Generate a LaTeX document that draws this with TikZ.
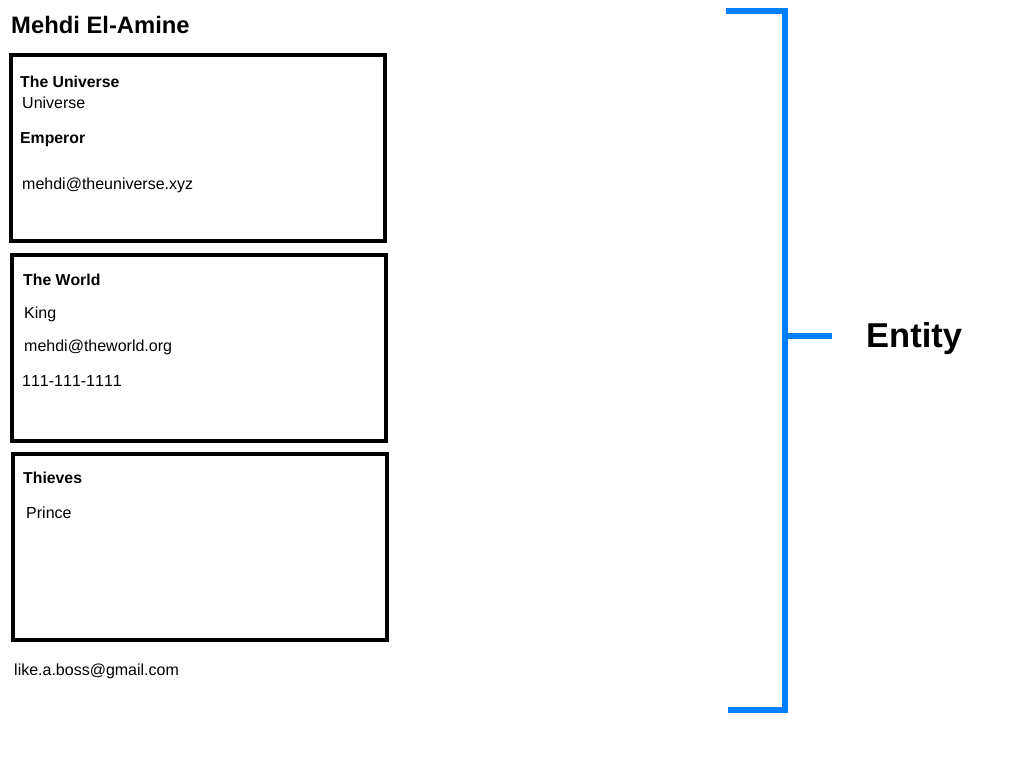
\documentclass[tikz,border=0pt]{standalone}
\usepackage{fontspec}
\setmainfont{Liberation Sans}[Kerning=Off]
\definecolor{brk}{RGB}{0,128,255}
\begin{document}
\begin{tikzpicture}[x=1pt,y=-1pt,
  card/.style={draw=black, line width=4pt, minimum width=374pt, minimum height=186pt, inner sep=0pt},
  lbl/.style={anchor=base west, inner sep=0pt, font=\fontsize{16}{19}\selectfont},
  blbl/.style={anchor=base west, inner sep=0pt, font=\fontsize{15.8}{19}\selectfont\bfseries},
  brace/.style={draw=brk, line width=6pt}]
\useasboundingbox (0,0) rectangle (1024,768);
\fill[white] (0,0) rectangle (1024,768);
% title
\node[anchor=base west, inner sep=0pt, font=\fontsize{23.8}{28}\selectfont\bfseries] (title) at (11,33.5) {Mehdi El-Amine};
% cards
\node[card] (box1) at (198,148) {};
\node[card] (box2) at (199,348) {};
\node[card] (box3) at (200,547) {};
% card 1
\node[blbl] (u1) at (20,87) {The Universe};
\node[lbl] (u2) at (22,108) {Universe};
\node[blbl] (u3) at (20,143) {Emperor};
\node[lbl] (u4) at (22,189) {mehdi@theuniverse.xyz};
% card 2
\node[blbl] (w1) at (23,285.5) {The World};
\node[lbl] (w2) at (24,318) {King};
\node[lbl] (w3) at (24,351.5) {mehdi@theworld.org};
\node[lbl] (w4) at (22,386) {111-111-1111};
% card 3
\node[blbl] (t1) at (23,483) {Thieves};
\node[lbl] (t2) at (26,518) {Prince};
% footer
\node[lbl] (mail) at (14,675) {like.a.boss@gmail.com};
% bracket
\coordinate (bt0) at (726,11);
\coordinate (bt1) at (785,11);
\coordinate (bb1) at (785,710);
\coordinate (bb0) at (728,710);
\coordinate (bm0) at (785,336);
\coordinate (bm1) at (832,336);
\draw[brace] (bt0) -- (bt1) -- (bb1) -- (bb0);
\draw[brace, line width=5.5pt] (bm0) -- (bm1);
\node[anchor=base west, inner sep=0pt, font=\fontsize{34.5}{40}\selectfont\bfseries] (entity) at (866,347) {Entity};
\end{tikzpicture}
\end{document}
